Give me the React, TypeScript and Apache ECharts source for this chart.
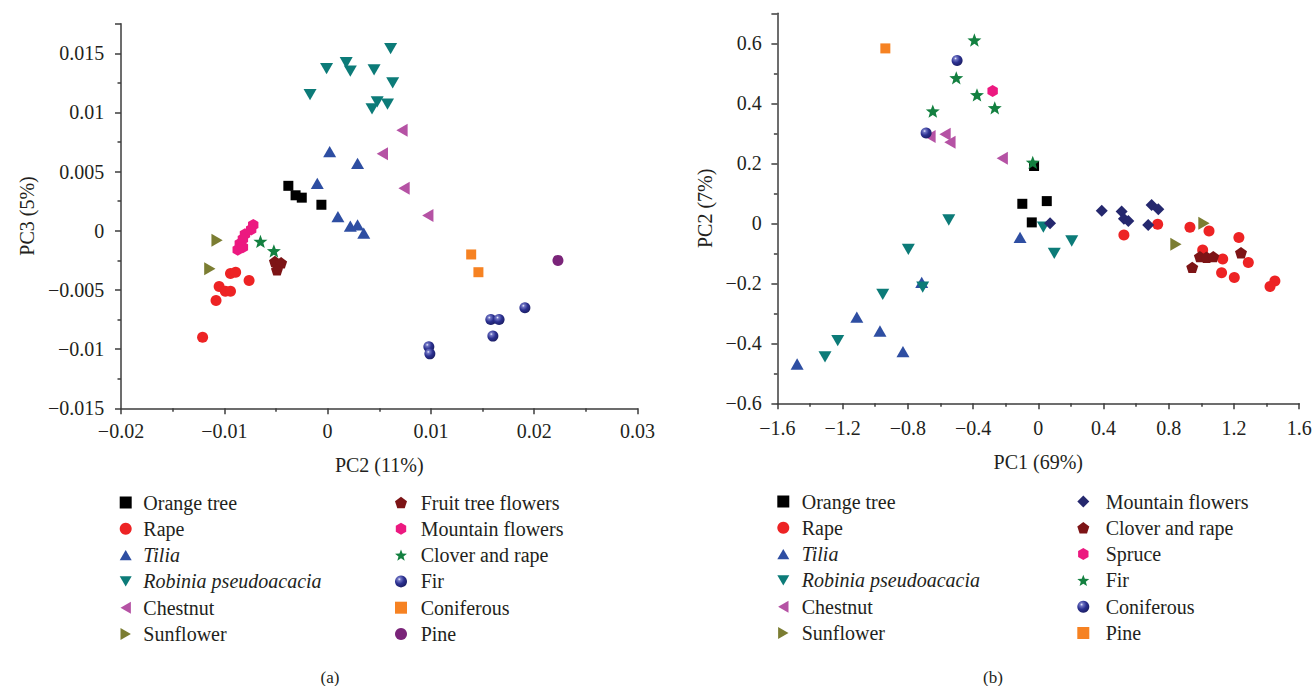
import React, { useEffect, useRef } from 'react';
import * as echarts from 'echarts';

const FONT = 'Liberation Serif, Times New Roman, serif';
const TEXT = '#231f20';
const AXIS = '#3d3d3d';

// ---------- Panel (a): PC2 vs PC3 ----------
const aOrangeTree = [[-0.0038, 0.0038], [-0.0031, 0.0030], [-0.0025, 0.0028], [-0.0006, 0.0022]];
const aRape = [[-0.0121, -0.0090], [-0.0108, -0.0059], [-0.0105, -0.0047], [-0.0099, -0.0051], [-0.0094, -0.0051], [-0.0094, -0.0036], [-0.0089, -0.0035], [-0.0076, -0.0042]];
const aTilia = [[0.0002, 0.0067], [0.0029, 0.0057], [-0.0010, 0.0040], [0.0010, 0.0012], [0.0022, 0.0004], [0.0029, 0.0005], [0.0035, -0.0002]];
const aRobinia = [[0.0061, 0.0154], [-0.0001, 0.0137], [0.0018, 0.0142], [0.0022, 0.0135], [0.0045, 0.0136], [0.0063, 0.0125], [-0.0017, 0.0115], [0.0048, 0.0109], [0.0058, 0.0107], [0.0043, 0.0103]];
const aChestnut = [[0.0072, 0.0085], [0.0053, 0.0065], [0.0074, 0.0036], [0.0097, 0.0013]];
const aSunflower = [[-0.0107, -0.0008], [-0.0114, -0.0032]];
const aFruitTree = [[-0.0051, -0.0026], [-0.0045, -0.0027], [-0.0049, -0.0033]];
const aMountain = [[-0.0072, 0.0005], [-0.0074, 0.0001], [-0.0080, -0.0003], [-0.0082, -0.0007], [-0.0085, -0.0011], [-0.0087, -0.0016], [-0.0082, -0.0014]];
const aClover = [[-0.0065, -0.0009], [-0.0052, -0.0017]];
const aFir = [[0.0191, -0.0065], [0.0158, -0.0075], [0.0166, -0.0075], [0.0160, -0.0089], [0.0098, -0.0098], [0.0099, -0.0104]];
const aConiferous = [[0.0139, -0.0020], [0.0146, -0.0035]];
const aPine = [[0.0223, -0.0025]];

// ---------- Panel (b): PC1 vs PC2 ----------
const bOrangeTree = [[-0.026, 0.191], [-0.098, 0.065], [0.052, 0.074], [-0.040, 0.003]];
const bRape = [[0.525, -0.039], [0.732, -0.003], [0.930, -0.013], [1.047, -0.026], [1.230, -0.047], [1.008, -0.089], [1.131, -0.119], [1.288, -0.131], [1.124, -0.165], [1.202, -0.181], [1.451, -0.192], [1.421, -0.211]];
const bTilia = [[-0.112, -0.047], [-0.715, -0.197], [-1.113, -0.313], [-0.971, -0.359], [-0.830, -0.428], [-1.479, -0.469]];
const bRobinia = [[-0.549, 0.011], [-0.797, -0.087], [-0.954, -0.237], [-0.709, -0.213], [-1.230, -0.391], [-1.308, -0.445], [0.031, -0.013], [0.205, -0.059], [0.098, -0.100]];
const bChestnut = [[-0.664, 0.289], [-0.572, 0.297], [-0.542, 0.270], [-0.221, 0.217]];
const bSunflower = [[1.016, 0.000], [0.844, -0.070]];
const bMountain = [[0.072, 0.000], [0.389, 0.042], [0.511, 0.039], [0.525, 0.015], [0.552, 0.008], [0.695, 0.061], [0.736, 0.047], [0.674, -0.006]];
const bClover = [[0.991, -0.111], [1.032, -0.113], [1.073, -0.111], [1.243, -0.098], [0.944, -0.147]];
const bSpruce = [[-0.280, 0.441]];
const bFir = [[-0.392, 0.611], [-0.503, 0.485], [-0.376, 0.428], [-0.267, 0.385], [-0.647, 0.374], [-0.034, 0.203]];
const bConiferous = [[-0.498, 0.543], [-0.688, 0.301]];
const bPine = [[-0.938, 0.583]];

const aAxis = { xMin: -0.02, xMax: 0.03, xInterval: 0.01, yMin: -0.015, yMax: 0.0175, yInterval: 0.005, xName: 'PC2 (11%)', yName: 'PC3 (5%)' };
const bAxis = { xMin: -1.6, xMax: 1.6, xInterval: 0.4, yMin: -0.6, yMax: 0.7, yInterval: 0.2, xName: 'PC1 (69%)', yName: 'PC2 (7%)' };

// ---------- symbol shapes ----------
function polyPath(n: number, startDeg: number, inner?: number) {
  const pts: string[] = [];
  const count = inner ? n * 2 : n;
  for (let i = 0; i < count; i++) {
    const r = inner && i % 2 === 1 ? inner : 1;
    const a = ((startDeg + (360 / count) * i) * Math.PI) / 180;
    pts.push(((10 + 10 * r * Math.cos(a)).toFixed(3)) + ',' + ((10 + 10 * r * Math.sin(a)).toFixed(3)));
  }
  return 'path://M' + pts.join('L') + 'Z';
}
const SYM = {
  square: 'rect',
  circle: 'circle',
  up: 'path://M10,0L20,17.32L0,17.32Z',
  down: 'path://M0,0L20,0L10,17.32Z',
  left: 'path://M17.32,0L17.32,20L0,10Z',
  right: 'path://M0,0L0,20L17.32,10Z',
  pentagon: polyPath(5, -90),
  hexagon: polyPath(6, -90),
  star: polyPath(5, -90, 0.42),
  diamond: 'diamond',
};

const sphere = () =>
  new echarts.graphic.RadialGradient(0.36, 0.32, 0.72, [
    { offset: 0, color: '#eef0ff' },
    { offset: 0.18, color: '#7075c4' },
    { offset: 0.55, color: '#2b3090' },
    { offset: 1, color: '#1b1e63' },
  ]);

const C = {
  black: '#000000',
  red: '#ed2324',
  blue: '#2e4ea2',
  teal: '#0c7b78',
  chestnut: '#b552a4',
  olive: '#7b7d32',
  darkred: '#7d1416',
  pink: '#ec1980',
  green: '#138040',
  orange: '#f68222',
  purple: '#7a2479',
  navy: '#25286e',
};

type Def = { name: string; data: number[][]; symbol: string; color: any; size: number; italic?: boolean };

const aDefs: Def[] = [
  { name: 'Orange tree', data: aOrangeTree, symbol: SYM.square, color: C.black, size: 10 },
  { name: 'Rape', data: aRape, symbol: SYM.circle, color: C.red, size: 11 },
  { name: 'Tilia', data: aTilia, symbol: SYM.up, color: C.blue, size: 13, italic: true },
  { name: 'Robinia pseudoacacia', data: aRobinia, symbol: SYM.down, color: C.teal, size: 13, italic: true },
  { name: 'Chestnut', data: aChestnut, symbol: SYM.left, color: C.chestnut, size: 13 },
  { name: 'Sunflower', data: aSunflower, symbol: SYM.right, color: C.olive, size: 13 },
  { name: 'Fruit tree flowers', data: aFruitTree, symbol: SYM.pentagon, color: C.darkred, size: 12 },
  { name: 'Mountain flowers', data: aMountain, symbol: SYM.hexagon, color: C.pink, size: 12 },
  { name: 'Clover and rape', data: aClover, symbol: SYM.star, color: C.green, size: 14 },
  { name: 'Fir', data: aFir, symbol: SYM.circle, color: sphere(), size: 11 },
  { name: 'Coniferous', data: aConiferous, symbol: SYM.square, color: C.orange, size: 10 },
  { name: 'Pine', data: aPine, symbol: SYM.circle, color: C.purple, size: 11 },
];

const bDefs: Def[] = [
  { name: 'Orange tree', data: bOrangeTree, symbol: SYM.square, color: C.black, size: 10 },
  { name: 'Rape', data: bRape, symbol: SYM.circle, color: C.red, size: 11 },
  { name: 'Tilia', data: bTilia, symbol: SYM.up, color: C.blue, size: 13, italic: true },
  { name: 'Robinia pseudoacacia', data: bRobinia, symbol: SYM.down, color: C.teal, size: 13, italic: true },
  { name: 'Chestnut', data: bChestnut, symbol: SYM.left, color: C.chestnut, size: 13 },
  { name: 'Sunflower', data: bSunflower, symbol: SYM.right, color: C.olive, size: 13 },
  { name: 'Mountain flowers', data: bMountain, symbol: SYM.diamond, color: C.navy, size: 12 },
  { name: 'Clover and rape', data: bClover, symbol: SYM.pentagon, color: C.darkred, size: 12 },
  { name: 'Spruce', data: bSpruce, symbol: SYM.hexagon, color: C.pink, size: 12 },
  { name: 'Fir', data: bFir, symbol: SYM.star, color: C.green, size: 14 },
  { name: 'Coniferous', data: bConiferous, symbol: SYM.circle, color: sphere(), size: 11 },
  { name: 'Pine', data: bPine, symbol: SYM.square, color: C.orange, size: 10 },
];

function fmt(v: number) {
  const r = Number(v.toFixed(6));
  if (Math.abs(r) < 1e-9) return '0';
  return r < 0 ? '\u2212' + String(-r) : String(r);
}

type Layout = {
  grid: { left: number; right: number; top: number; bottom: number };
  xNameGap: number; yNameGap: number; xLabelMargin: number; yLabelMargin: number;
  legend: { left: number; spacer: number }[];
  legendTop: number;
  tag: string; tagX: number;
};

function buildOption(defs: Def[], ax: typeof aAxis, L: Layout) {
  const axisLine = { show: true, onZero: false, lineStyle: { color: AXIS, width: 1.5 } };
  const axisTick = { show: true, inside: false, length: 6, lineStyle: { color: AXIS, width: 1.5 } };
  const minorTick = { show: true, splitNumber: 2, length: 3.5, lineStyle: { color: AXIS, width: 1.5 } };
  const nameTextStyle = { fontFamily: FONT, fontSize: 20, color: TEXT };
  const label = { fontFamily: FONT, fontSize: 20, color: TEXT, formatter: fmt };
  const legends = L.legend.map((lg, i) => {
    const items = defs.slice(i * 6, i * 6 + 6);
    const italics = new Set(items.filter((d) => d.italic).map((d) => d.name));
    return {
      show: true,
      orient: 'vertical',
      left: lg.left,
      top: L.legendTop,
      itemWidth: 12,
      itemHeight: 12,
      itemGap: 6.3,
      padding: 0,
      selectedMode: false,
      data: items.map((d) => d.name),
      formatter: (name: string) => '{s|}' + (italics.has(name) ? '{i|' + name + '}' : '{n|' + name + '}'),
      textStyle: {
        fontFamily: FONT,
        fontSize: 20,
        color: TEXT,
        rich: {
          s: { width: lg.spacer, lineHeight: 20 },
          n: { fontFamily: FONT, fontSize: 20, color: TEXT, lineHeight: 20 },
          i: { fontFamily: FONT, fontSize: 20, color: TEXT, lineHeight: 20, fontStyle: 'italic' },
        },
      },
    };
  });
  return {
    animation: false,
    backgroundColor: '#ffffff',
    textStyle: { fontFamily: FONT },
    grid: { ...L.grid, containLabel: false },
    xAxis: {
      type: 'value',
      min: ax.xMin,
      max: ax.xMax,
      interval: ax.xInterval,
      name: ax.xName,
      nameLocation: 'middle',
      nameGap: L.xNameGap,
      nameTextStyle,
      axisLine,
      axisTick,
      minorTick,
      splitLine: { show: false },
      minorSplitLine: { show: false },
      axisLabel: { ...label, margin: L.xLabelMargin },
    },
    yAxis: {
      type: 'value',
      min: ax.yMin,
      max: ax.yMax,
      interval: ax.yInterval,
      name: ax.yName,
      nameLocation: 'middle',
      nameGap: L.yNameGap,
      nameTextStyle,
      axisLine,
      axisTick,
      minorTick,
      splitLine: { show: false },
      minorSplitLine: { show: false },
      axisLabel: { ...label, margin: L.yLabelMargin, showMaxLabel: false },
    },
    legend: legends,
    series: defs.map((d) => ({
      type: 'scatter',
      name: d.name,
      data: d.data,
      symbol: d.symbol,
      symbolSize: d.size,
      symbolKeepAspect: true,
      itemStyle: { color: d.color, opacity: 1 },
      emphasis: { disabled: true },
    })),
    graphic: [
      {
        type: 'text',
        x: L.tagX,
        y: 677,
        style: { text: L.tag, fontFamily: FONT, fontSize: 17, fill: TEXT, align: 'center', verticalAlign: 'middle' },
      },
    ],
  };
}

const aLayout: Layout = {
  grid: { left: 121, right: 15, top: 23.7, bottom: 277.7 },
  xNameGap: 46.7, yNameGap: 65.7, xLabelMargin: 13, yLabelMargin: 16.7,
  legend: [{ left: 119.7, spacer: 6.6 }, { left: 395, spacer: 8.7 }],
  legendTop: 492.5,
  tag: '(a)', tagX: 330,
};

const bLayout: Layout = {
  grid: { left: 119.4, right: 16.8, top: 13.3, bottom: 282.7 },
  xNameGap: 48.7, yNameGap: 59.4, xLabelMargin: 14.7, yLabelMargin: 15.7,
  legend: [{ left: 119.3, spacer: 7.4 }, { left: 419.3, spacer: 11.4 }],
  legendTop: 491.5,
  tag: '(b)', tagX: 335,
};

function Panel({ defs, ax, layout, left }: { defs: Def[]; ax: typeof aAxis; layout: Layout; left: number }) {
  const ref = useRef<HTMLDivElement>(null);
  useEffect(() => {
    if (!ref.current) return;
    const chart = echarts.init(ref.current, undefined, { renderer: 'svg' });
    chart.setOption(buildOption(defs, ax, layout) as any);
    return () => chart.dispose();
  }, []);
  return <div ref={ref} style={{ position: 'absolute', left, top: 0, width: 658, height: 686 }} />;
}

export default function App() {
  return (
    <div style={{ position: 'absolute', left: 0, top: 0, width: 1316, height: 686, background: '#fff' }}>
      <Panel defs={aDefs} ax={aAxis} layout={aLayout} left={0} />
      <Panel defs={bDefs} ax={bAxis} layout={bLayout} left={658} />
    </div>
  );
}
